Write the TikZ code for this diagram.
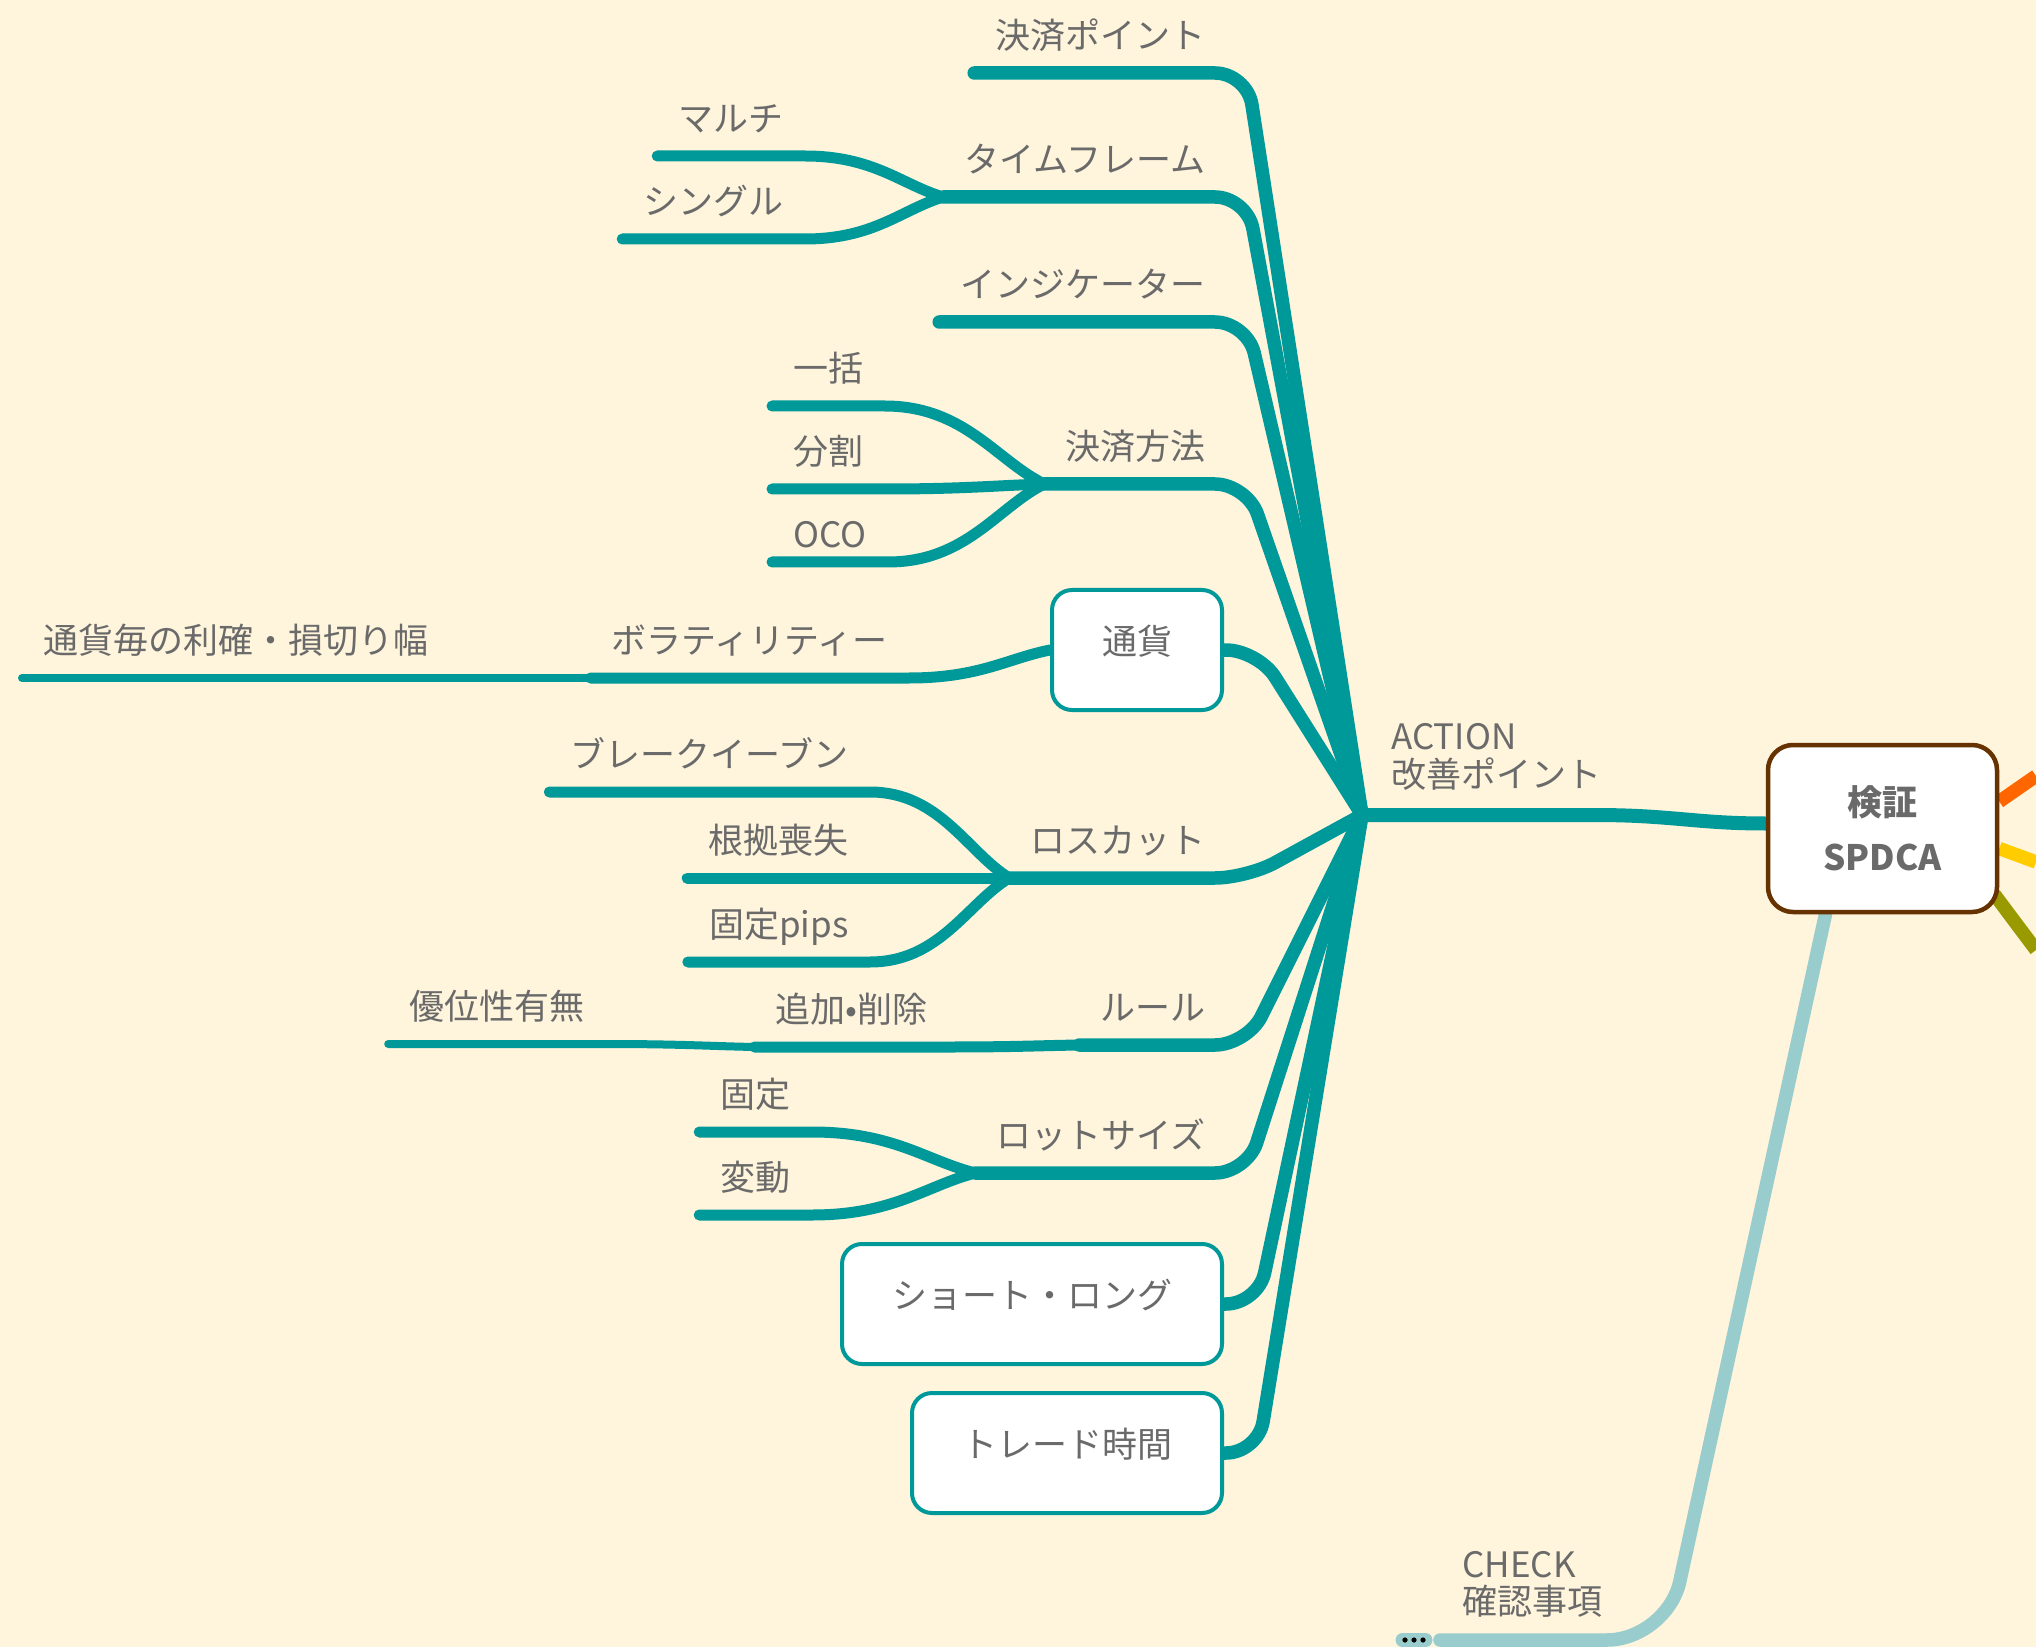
\documentclass[tikz,border=0pt]{standalone}
\usepackage{fontspec}
\setmainfont{Noto Sans CJK JP}
\usetikzlibrary{positioning,calc,backgrounds}
\definecolor{bgcream}{HTML}{FFF4DC}
\definecolor{mapteal}{HTML}{009999}
\definecolor{checkteal}{HTML}{99CCCC}
\definecolor{txtgray}{HTML}{6A6A6A}
\definecolor{rootbrown}{HTML}{663300}
\definecolor{planorange}{HTML}{FF6600}
\definecolor{doyellow}{HTML}{FFCC00}
\definecolor{studyolive}{HTML}{999900}

\begin{document}
\begin{tikzpicture}[x=0.5pt,y=-0.5pt]
\tikzset{every node/.style={font=\fontsize{17.5pt}{19pt}\selectfont,text=txtgray}}
\tikzset{topic/.style={inner xsep=10.5pt,inner ysep=12pt,text depth=0pt}}
\tikzset{topicbox/.style={draw=mapteal,line width=2pt,fill=white,rounded corners=10pt,
  inner xsep=25pt,inner ysep=0pt,text height=32pt,text depth=28pt}}
\tikzset{branch/.style={draw=mapteal,line width=6.75pt,line cap=round,rounded corners=16pt}}
\tikzset{subbranch/.style={draw=mapteal,line width=5.5pt,line cap=round}}
\tikzset{leaf/.style={draw=mapteal,line width=4pt,line cap=round}}
\tikzset{fork/.style={to path={.. controls ($(\tikztostart)!0.5!(\tikztostart-|\tikztotarget)$)
  and ($(\tikztotarget)!0.3!(\tikztostart)$) .. (\tikztotarget)}}}
\useasboundingbox (0,0) rectangle (2036,1647);

\node[draw=rootbrown,line width=2.25pt,fill=white,rounded corners=12.5pt,minimum width=114.5pt,
  minimum height=83.5pt,align=center,font=\bfseries\fontsize{17.5pt}{27.5pt}\selectfont] (spdca) at (1882.5,828.5) {検証\\SPDCA};
\coordinate (hub) at (1362,815);
\node[anchor=west,inner sep=0pt,align=left] (action) at (1391,757) {ACTION\\改善ポイント};
\node[anchor=west,inner sep=0pt,align=left,font=\fontsize{17.5pt}{18.5pt}\selectfont] (check) at (1462,1584) {CHECK\\確認事項};
\coordinate (checkend) at (1440,1640);
\coordinate (checkbend) at (1667,1640);
\node[fill=checkteal,rounded corners=3.5pt,minimum width=18.5pt,minimum height=7pt,inner sep=0pt] (more) at (1414,1640) {};
\coordinate (planend) at (2036,776);
\coordinate (doend) at (2036,862);
\coordinate (studyend) at (2036,950);

\node[topic,anchor=south east] (kp) at (1227,73) {決済ポイント};
\node[topic,anchor=south east] (tf) at (1227,197) {タイムフレーム};
\node[topic,anchor=south east] (ind) at (1227,322) {インジケーター};
\node[topic,anchor=south east] (km) at (1227,484) {決済方法};
\node[topicbox,anchor=east] (tsuka) at (1224,650) {通貨};
\node[topic,anchor=south east] (lc) at (1227,878) {ロスカット};
\node[topic,anchor=south east] (rule) at (1227,1045) {ルール};
\node[topic,anchor=south east] (lot) at (1227,1173) {ロットサイズ};
\node[topicbox,anchor=east] (sl) at (1224,1304) {ショート・ロング};
\node[topicbox,anchor=east] (th) at (1224,1453) {トレード時間};

\node[topic,anchor=south east] (multi) at (805,156) {マルチ};
\node[topic,anchor=south east] (single) at (805,239) {シングル};
\node[topic,anchor=south west] (ikkatsu) at (772,406) {一括};
\node[topic,anchor=south west] (bunkatsu) at (772,489) {分割};
\node[topic,anchor=south west,inner ysep=7pt] (oco) at (772,562) {OCO};
\node[topic,anchor=south east] (vol) at (909,678) {ボラティリティー};
\node[topic,anchor=south west] (haba) at (22,678) {通貨毎の利確・損切り幅};
\node[topic,anchor=south east] (be) at (870,792) {ブレークイーブン};
\node[topic,anchor=south east] (konkyo) at (870,878) {根拠喪失};
\node[topic,anchor=south east] (pips) at (870,962) {固定pips};
\node[topic,anchor=south east] (tsuika) at (949,1047) {追加•削除};
\node[topic,anchor=south east] (yuui) at (606,1044) {優位性有無};
\node[topic,anchor=south east] (kotei) at (812,1132) {固定};
\node[topic,anchor=south east] (hendo) at (812,1215) {変動};

\foreach \dx in {-9,0,9}
  \fill[black] ($(more.center)+(\dx,0)$) circle (1.3pt);

\begin{pgfonlayer}{background}
\fill[bgcream] (0,0) rectangle (2036,1647);
\foreach \n in {kp,tf,ind,km,lc,rule,lot}
  \draw[branch] (\n.south west) -- ($(\n.south east)+(20,0)$) -- (hub);
\foreach \n in {tsuka,sl,th}
  \draw[branch] (\n.east) -- ++(34,0) -- (hub);
\foreach \n/\p in {multi/tf,single/tf,ikkatsu/km,bunkatsu/km,oco/km,be/lc,konkyo/lc,pips/lc,kotei/lot,hendo/lot,tsuika/rule}
  \draw[subbranch] (\n.south west) -- (\n.south east) to[fork] (\p.south west);
\draw[subbranch] (vol.south west) -- (vol.south east) to[fork] (tsuka.west);
\draw[leaf] (haba.south west) -- (haba.south east) -- (vol.south west);
\draw[leaf] (yuui.south west) -- (yuui.south east) to[fork] (tsuika.south west);
\draw[branch,line width=7pt] (hub) -- ($(hub)+(200,0)$) .. controls +(110,0) and +(-70,0) .. ($(spdca.west)+(0,-5)$);
\draw[checkteal,line width=6.75pt,line cap=round,rounded corners=30pt] ($(spdca.south)+(-57,0)$) -- (checkbend) -- (checkend);
\draw[planorange,line width=6.75pt] ($(spdca.east)+(0,-27)$) -- (planend);
\draw[doyellow,line width=6.75pt] ($(spdca.east)+(0,20)$) -- (doend);
\draw[studyolive,line width=6.75pt] ($(spdca.south east)+(-5,-20)$) -- (studyend);
\end{pgfonlayer}
\end{tikzpicture}
\end{document}
